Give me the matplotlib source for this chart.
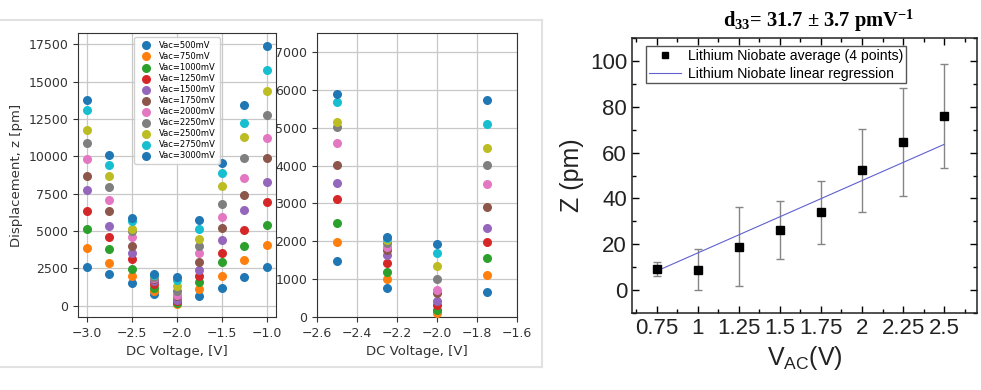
import matplotlib.pyplot as plt
from matplotlib.lines import Line2D
from matplotlib.ticker import MultipleLocator

# dane - lewe wykresy (przemieszczenie vs napiecie DC)
dc_voltage = [-3.0, -2.75, -2.5, -2.25, -2.0, -1.75, -1.5, -1.25, -1.0]
vac_mv = [500, 750, 1000, 1250, 1500, 1750, 2000, 2250, 2500, 2750, 3000]
disp_500 = [2590, 2140, 1490, 760, 150, 660, 1180, 1920, 2590]
disp_750 = [3860, 2850, 1990, 1000, 105, 1115, 2010, 3030, 4080]
disp_1000 = [5130, 3810, 2470, 1200, 190, 1570, 2900, 4010, 5370]
disp_1250 = [6310, 4610, 3110, 1420, 320, 1990, 3520, 5080, 6960]
disp_1500 = [7760, 5350, 3550, 1640, 410, 2360, 4370, 6380, 8270]
disp_1750 = [8690, 6310, 4010, 1760, 630, 2910, 5190, 7420, 9880]
disp_2000 = [9830, 7070, 4590, 1860, 720, 3520, 5970, 8580, 11210]
disp_2250 = [10920, 7940, 5020, 1950, 1000, 4010, 6800, 9880, 12800]
disp_2500 = [11770, 8690, 5140, 2040, 1340, 4470, 7980, 11280, 14380]
disp_2750 = [13090, 9430, 5680, 2080, 1690, 5110, 8870, 12220, 15780]
disp_3000 = [13780, 10080, 5900, 2120, 1930, 5740, 9540, 13440, 17390]
disp_all = [disp_500, disp_750, disp_1000, disp_1250, disp_1500, disp_1750,
            disp_2000, disp_2250, disp_2500, disp_2750, disp_3000]

# dane - prawy wykres (srednie Z vs V_AC)
vac_v = [0.75, 1, 1.25, 1.5, 1.75, 2, 2.25, 2.5]
vac_labels = ['0.75', '1', '1.25', '1.5', '1.75', '2', '2.25', '2.5']
z_avg = [9.2, 8.9, 19.0, 26.1, 34.0, 52.3, 64.7, 76.1]
z_err = [3.2, 9.0, 17.1, 12.7, 13.8, 18.0, 23.7, 22.6]
fit_x = [0.75, 2.5]
fit_z = [8.3, 63.6]

plt.rcParams['mathtext.fontset'] = 'custom'
plt.rcParams['mathtext.rm'] = 'Liberation Serif:bold'
plt.rcParams['mathtext.sf'] = 'Liberation Sans'

fig = plt.figure(figsize=(9.81, 3.90), dpi=100)

ax1 = fig.add_axes([0.0795, 0.1872, 0.2018, 0.728])
ax2 = fig.add_axes([0.3231, 0.1872, 0.2039, 0.728])
ax3 = fig.add_axes([0.6442, 0.1974, 0.3517, 0.705])

colors = plt.rcParams['axes.prop_cycle'].by_key()['color']

for ax in [ax1, ax2]:
    ax.set_axisbelow(True)
    for i in range(len(vac_mv)):
        ax.scatter(dc_voltage, disp_all[i], s=30, color=colors[i % 10],
                   label='Vac=%dmV' % vac_mv[i], zorder=3)
    ax.grid(True, color='#c8c8c8', lw=0.9)
    ax.tick_params(labelsize=9, colors='#333333', length=3.5)
    ax.set_xlabel('DC Voltage, [V]', fontsize=9.5, color='#333333')
    for s in ax.spines.values():
        s.set_color('#333333')

ax1.set_ylabel('Displacement, z [pm]', fontsize=9.5, color='#333333')
ax1.set_xticks([-3.0, -2.5, -2.0, -1.5, -1.0])
ax1.legend(loc='upper center', fontsize=6, labelspacing=0.25,
           handletextpad=0.6, borderpad=0.4, markerscale=1.0, framealpha=0.9)

ax2.set_xlim(-2.6, -1.6)
ax2.set_ylim(0, 7500)
ax2.set_xticks([-2.6, -2.4, -2.2, -2.0, -1.8, -1.6])
ax2.set_yticks(range(0, 7001, 1000))

# prawy wykres
ax3.errorbar(vac_v, z_avg, yerr=z_err, fmt='none', ecolor='#858585',
             elinewidth=1, capsize=3, capthick=1, zorder=2)
ax3.plot(vac_v, z_avg, 's', color='black', ms=5.5, zorder=3)
ax3.plot(fit_x, fit_z, '-', color='#6060d0', lw=0.8, zorder=2)
ax3.set_xlim(0.6, 2.7)
ax3.set_ylim(-10, 110)
ax3.set_xticks(vac_v)
ax3.set_xticklabels(vac_labels)
ax3.xaxis.set_minor_locator(MultipleLocator(0.125))
ax3.set_yticks([0, 20, 40, 60, 80, 100])
ax3.yaxis.set_minor_locator(MultipleLocator(10))
ax3.tick_params(which='both', direction='in', top=True, right=True,
                labelsize=16)
ax3.tick_params(which='major', length=5, width=1)
ax3.tick_params(which='minor', length=3, width=1)
for lab in ax3.get_xticklabels() + ax3.get_yticklabels():
    lab.set_family('Liberation Sans')
    lab.set_color('#222222')
for s in ax3.spines.values():
    s.set_linewidth(1.1)
    s.set_color('#222222')
ax3.set_ylabel('Z (pm)', fontsize=18, family='Liberation Sans', color='#222222')
ax3.set_xlabel(r'V$\mathsf{_{AC}}$(V)', fontsize=18, family='Liberation Sans',
               color='#222222')
ax3.set_title(r'd$\mathrm{_{33}}$= 31.7 ± 3.7 pmV$\mathrm{^{-1}}$', fontsize=14.8,
              family='Liberation Serif', fontweight='bold', pad=8, x=0.54)

handles = [Line2D([], [], marker='s', color='black', ls='none', ms=5),
           Line2D([], [], color='#6060d0', lw=0.8)]
leg = ax3.legend(handles, ['Lithium Niobate average (4 points)',
                           'Lithium Niobate linear regression'],
                 loc='upper left', bbox_to_anchor=(0.04, 0.97),
                 prop={'family': 'Liberation Sans', 'size': 10.1},
                 fancybox=False, framealpha=1, edgecolor='#555555',
                 handlelength=2.3, borderpad=0.2, labelspacing=0.25,
                 handletextpad=0.5, borderaxespad=0)

# szara ramka wokol lewej czesci
frame_c = '#e2e2e2'
fig.add_artist(Line2D([0, 0.5525], [0.9487, 0.9487], color=frame_c, lw=1.5))
fig.add_artist(Line2D([0, 0.5525], [0.059, 0.059], color=frame_c, lw=1.5))
fig.add_artist(Line2D([0.5525, 0.5525], [0.059, 0.9487], color=frame_c, lw=1.5))

fig.savefig('out.png', dpi=100)
